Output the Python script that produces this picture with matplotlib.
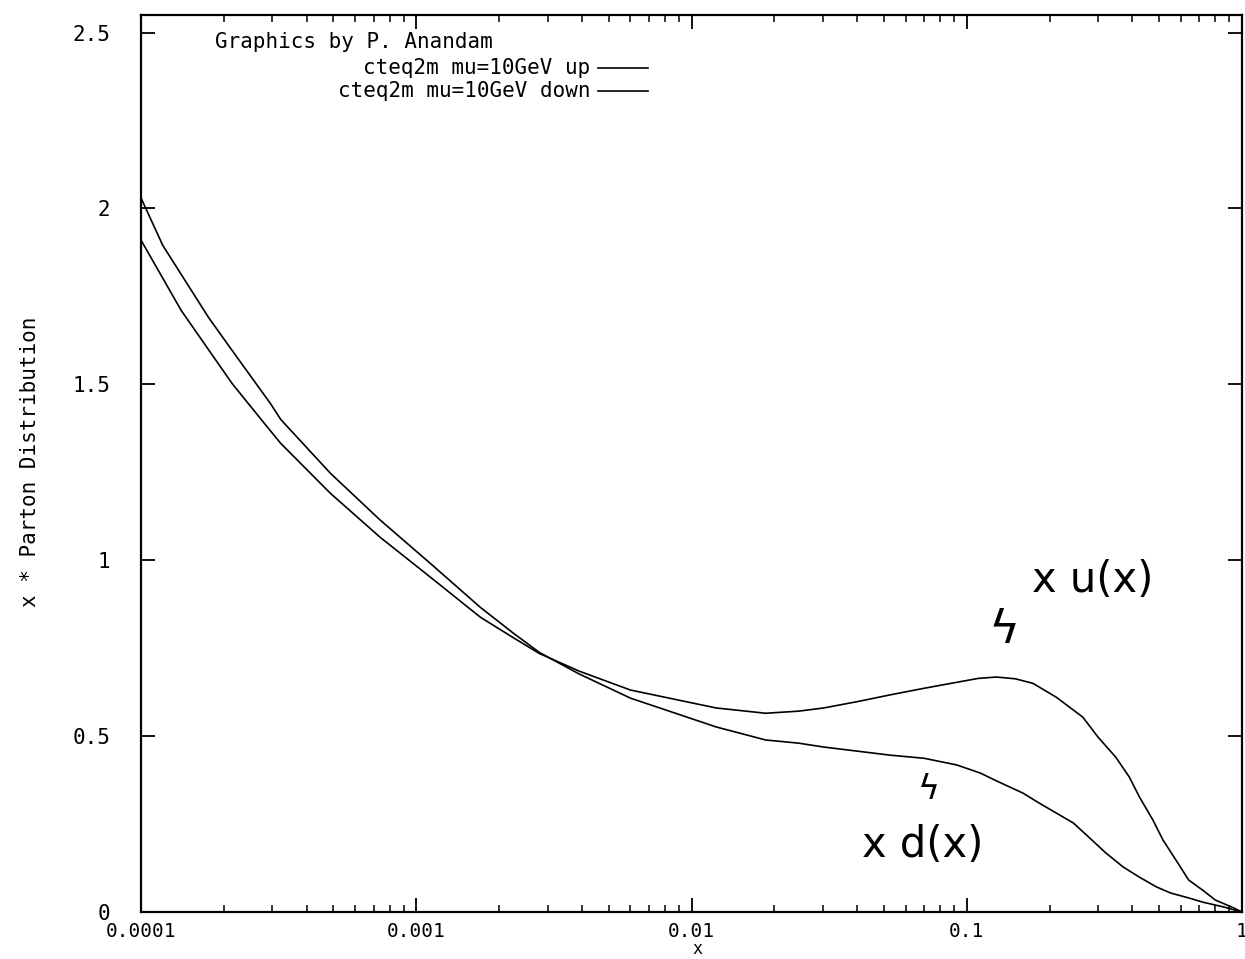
import matplotlib
matplotlib.use("Agg")
import matplotlib.pyplot as plt
from matplotlib.lines import Line2D
from matplotlib.ticker import FixedLocator, LogLocator, NullFormatter

# ---------------- data ----------------
# x * u(x), cteq2m, mu = 10 GeV
x_up = [1e-4, 1.4e-4, 2.14e-4, 2.8e-4, 3.22e-4, 4.88e-4, 7.4e-4, 1.125e-3,
        1.71e-3, 2.25e-3, 2.8e-3, 3.9e-3, 6e-3, 0.0123, 0.0186, 0.0245,
        0.0302, 0.04, 0.0525, 0.07, 0.092, 0.11, 0.128, 0.15, 0.174, 0.212,
        0.264, 0.30, 0.348, 0.39, 0.424, 0.475, 0.516, 0.575, 0.64, 0.72,
        0.80, 0.93, 1.0]
y_up = [1.91, 1.71, 1.503, 1.39, 1.332, 1.19, 1.065, 0.952,
        0.838, 0.78, 0.735, 0.685, 0.631, 0.58, 0.565, 0.571,
        0.58, 0.598, 0.617, 0.636, 0.653, 0.664, 0.668, 0.663, 0.65, 0.61,
        0.554, 0.497, 0.44, 0.383, 0.327, 0.261, 0.205, 0.148, 0.091, 0.062,
        0.034, 0.012, 0.0]

# x * d(x)
x_down = [1e-4, 1.2e-4, 1.76e-4, 2.14e-4, 2.95e-4, 3.22e-4, 4.88e-4, 7.4e-4,
          1.125e-3, 1.71e-3, 2.25e-3, 2.8e-3, 3.9e-3, 6e-3, 0.0123, 0.0186,
          0.0245, 0.0302, 0.0525, 0.07, 0.092, 0.112, 0.128, 0.16, 0.183,
          0.244, 0.28, 0.32, 0.37, 0.424, 0.49, 0.55, 0.64, 0.72, 0.85, 1.0]
y_down = [2.03, 1.895, 1.69, 1.597, 1.446, 1.40, 1.247, 1.114,
          0.991, 0.866, 0.793, 0.738, 0.677, 0.608, 0.526, 0.489,
          0.48, 0.469, 0.446, 0.437, 0.418, 0.395, 0.373, 0.338, 0.31,
          0.253, 0.21, 0.168, 0.128, 0.099, 0.071, 0.054, 0.04, 0.028, 0.015,
          0.0]

x_ticks = [1e-4, 1e-3, 1e-2, 1e-1, 1.0]
x_ticklabels = ["0.0001", "0.001", "0.01", "0.1", "1"]
y_ticks = [0, 0.5, 1, 1.5, 2, 2.5]
y_ticklabels = ["0", "0.5", "1", "1.5", "2", "2.5"]

up_label = "cteq2m mu=10GeV up"
down_label = "cteq2m mu=10GeV down"
credit = "Graphics by P. Anandam"
# ---------------------------------------------------------

plt.rcParams['font.family'] = ['DejaVu Sans Mono', 'DejaVu Sans']
FS = 15
W, H = 1245, 959

fig = plt.figure(figsize=(W / 100, H / 100), dpi=100)
ax = fig.add_axes([141 / W, 1 - 912 / H, (1242 - 141) / W, (912 - 15) / H])

ax.plot(x_up, y_up, color="black", lw=1.2)
ax.plot(x_down, y_down, color="black", lw=1.2)

ax.set_xscale("log")
ax.set_xlim(1e-4, 1.0)
ax.set_ylim(0, 2.55)

ax.xaxis.set_major_locator(FixedLocator(x_ticks))
ax.set_xticklabels(x_ticklabels)
ax.xaxis.set_minor_locator(LogLocator(base=10, subs=range(2, 10)))
ax.xaxis.set_minor_formatter(NullFormatter())
ax.set_yticks(y_ticks)
ax.set_yticklabels(y_ticklabels)

ax.tick_params(which="major", direction="in", top=True, right=True,
               length=10, width=1.3, labelsize=FS)
ax.tick_params(which="minor", direction="in", top=True, right=True,
               length=5, width=1.1)
ax.tick_params(axis="y", pad=22)
ax.tick_params(axis="x", pad=7, labelsize=14)
for s in ax.spines.values():
    s.set_linewidth(1.6)

# labels
fig.text(30 / W, 1 - 462 / H, "x * Parton Distribution", rotation=90,
         ha="center", va="center", fontsize=FS)
fig.text(697 / W, 0.5 / H, "x", ha="center", va="bottom", fontsize=12)

# key in the gnuplot style
fig.text(215 / W, 1 - 42 / H, credit, ha="left", va="center", fontsize=FS)
fig.text(590 / W, 1 - 68 / H, up_label, ha="right", va="center", fontsize=FS)
fig.text(590 / W, 1 - 91 / H, down_label, ha="right", va="center", fontsize=FS)
for yk in (68, 91):
    fig.add_artist(Line2D([598 / W, 648 / W], [1 - yk / H, 1 - yk / H],
                          color="black", lw=1.2))

# hand-written notes
hand = dict(family="DejaVu Sans", color="black")
ax.text(0.172, 0.943, "x u(x)", fontsize=30, ha="left", va="center", **hand)
ax.text(0.137, 0.80, "ϟ", fontsize=34, ha="center", va="center", **hand)
ax.text(0.0417, 0.19, "x d(x)", fontsize=30, ha="left", va="center", **hand)
ax.text(0.0728, 0.347, "ϟ", fontsize=24, ha="center", va="center", **hand)

fig.savefig("out.png", dpi=100)
